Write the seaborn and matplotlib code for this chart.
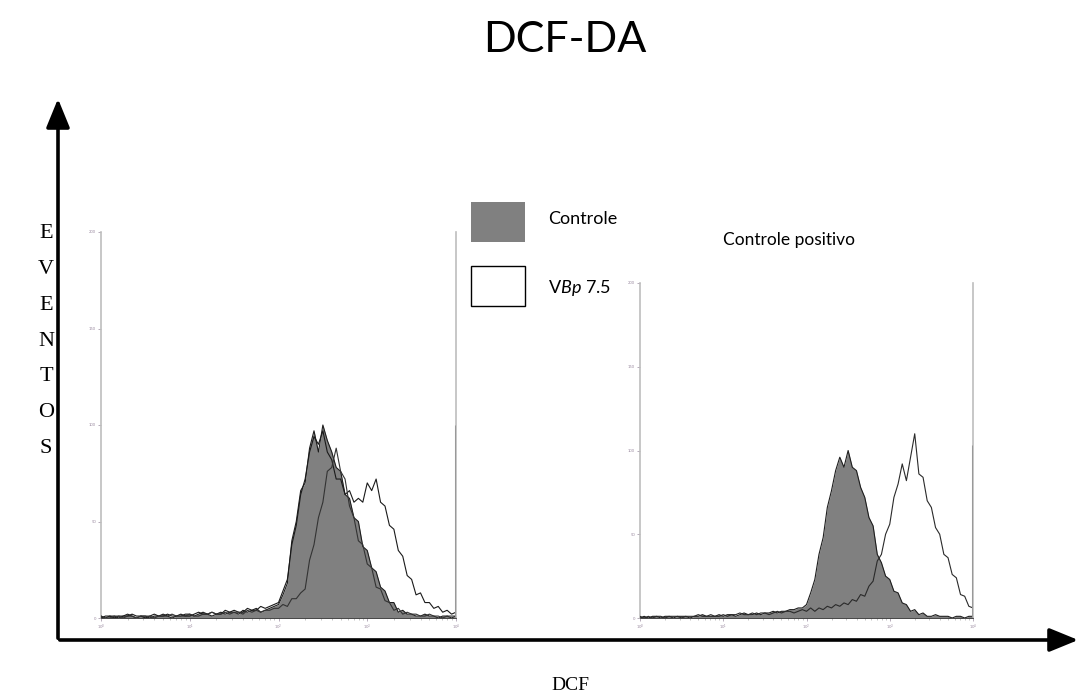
import numpy as np
import matplotlib
matplotlib.use("Agg")
import matplotlib.pyplot as plt
from matplotlib.patches import Rectangle, FancyArrowPatch
from matplotlib.ticker import LogLocator, NullFormatter, FixedLocator
import seaborn as sns

# ---------------- data ----------------
# bin centres in log10(channel) units, 0..4 decades
log_channel = np.round(np.arange(0, 4.0001, 0.05), 2)

left_controle = [1,0,1,1,0,1,2,1,0,1,
                 1,0,1,1,2,1,0,1,1,2,
                 2,1,2,3,2,1,2,3,2,3,
                 3,2,4,3,4,5,3,4,5,6,
                 7,12,18,40,50,66,70,88,97,86,
                 100,92,86,78,76,64,62,52,50,37,
                 35,26,24,16,14,8,8,3,4,2,
                 2,1,1,2,1,1,0,1,1,0,1]
left_vbp = [0,1,1,0,1,1,1,2,1,1,
            0,1,2,1,1,2,1,1,2,1,
            1,2,3,2,2,3,2,2,4,3,
            4,3,3,5,4,4,6,5,6,7,
            8,14,20,38,48,64,72,86,94,90,
            97,86,82,72,72,64,66,60,62,60,
            70,66,72,60,58,48,46,35,32,22,
            20,12,13,8,8,5,6,3,4,2,3]
left_vbp_b = [1,0,0,1,1,0,1,1,0,1,
              1,1,0,1,1,1,2,1,1,1,
              2,1,1,2,2,3,2,2,3,2,
              3,3,2,4,3,4,3,4,4,5,
              5,7,6,10,10,13,15,30,38,52,
              60,76,78,88,76,72,58,52,40,38,
              28,26,16,15,9,8,4,5,2,3,
              2,2,1,1,2,1,1,0,1,1,1]
right_controle = [0,1,0,1,1,0,1,1,0,1,
                  1,1,0,1,1,2,1,1,1,2,
                  1,2,2,1,2,3,2,2,3,2,
                  3,3,4,3,4,4,5,5,6,6,
                  8,15,23,38,48,66,76,88,96,90,
                  100,90,88,78,72,60,55,38,33,25,
                  23,16,15,9,8,4,5,2,3,1,
                  1,2,1,1,1,0,1,1,0,1,1]
right_positivo = [1,0,1,0,1,1,0,1,1,1,
                  0,1,1,1,2,1,1,2,1,1,
                  2,1,2,2,3,2,2,3,2,3,
                  3,2,3,4,3,4,4,3,4,5,
                  4,6,4,6,5,7,6,8,7,9,
                  8,11,10,14,13,19,22,34,38,50,
                  56,72,80,92,82,96,110,86,84,70,
                  66,54,50,38,36,26,24,14,13,7,6]
# counts piled up in the last channel
left_pileup = 100
right_pileup = 103

y_ticks = [0, 50, 100, 150, 200]
x_decades = [1, 10, 100, 1000, 10000]
x_tick_labels = ["10$^0$", "10$^1$", "10$^2$", "10$^3$", "10$^4$"]

title = "DCF-DA"
y_letters = ["E", "V", "E", "N", "T", "O", "S"]
x_word = "DCF"
legend_labels = ["Controle", "V$\\mathit{Bp}$ 7.5"]
panel_title = "Controle positivo"

# ---------------- style ----------------
sns.set_style("white")
plt.rcParams["font.family"] = ["Lato", "DejaVu Sans"]
plt.rcParams["text.color"] = "black"
plt.rcParams["mathtext.fontset"] = "custom"
plt.rcParams["mathtext.rm"] = "Lato"
plt.rcParams["mathtext.it"] = "Lato:italic"

W, H = 1081, 697
fig = plt.figure(figsize=(W / 100, H / 100), dpi=100)

# overlay axes in pixel coordinates for the annotation frame
ov = fig.add_axes([0, 0, 1, 1])
ov.set_xlim(0, W)
ov.set_ylim(H, 0)
ov.axis("off")

channel = 10 ** log_channel
FILL = "#808080"


def hist_panel(rect, filled, outlines, pileup):
    ax = fig.add_axes(rect)
    ax.fill_between(channel, 0, filled, color=FILL, lw=0, zorder=2)
    sns.lineplot(x=channel, y=filled, ax=ax, color="#1e1e1e", lw=0.8, zorder=3)
    for ser, col in outlines:
        sns.lineplot(x=channel, y=ser, ax=ax, color=col, lw=0.8, zorder=4)
    ax.vlines(x_decades[-1], 0, pileup, color="#999999", lw=2.2, zorder=5)
    ax.set_xscale("log")
    ax.set_xlim(x_decades[0], x_decades[-1])
    ax.set_ylim(y_ticks[0], y_ticks[-1])
    ax.xaxis.set_major_locator(FixedLocator(x_decades))
    ax.set_xticklabels(x_tick_labels)
    ax.xaxis.set_minor_locator(LogLocator(base=10, subs=np.arange(2, 10)))
    ax.xaxis.set_minor_formatter(NullFormatter())
    ax.set_yticks(y_ticks)
    ax.set_yticklabels([str(v) for v in y_ticks])
    ax.tick_params(axis="both", which="major", length=2.5, width=0.5,
                   colors="#9a8aa0", labelsize=3, pad=1, direction="out")
    ax.tick_params(axis="x", which="minor", length=1.5, width=0.4,
                   colors="#999999", bottom=True)
    ax.tick_params(axis="both", which="both", bottom=True, left=True)
    ax.spines["top"].set_visible(False)
    ax.spines["left"].set_color("#bdbdbd")
    ax.spines["left"].set_linewidth(1.2)
    ax.spines["right"].set_color("#bdbdbd")
    ax.spines["right"].set_linewidth(1.2)
    ax.spines["bottom"].set_color("#333333")
    ax.spines["bottom"].set_linewidth(0.6)
    ax.set_xlabel("")
    ax.set_ylabel("")
    ax.patch.set_alpha(0)
    return ax


ax1 = hist_panel([101 / W, 1 - 618 / H, 355 / W, 386 / H],
                 left_controle,
                 [(left_vbp, "#1a1a1a"), (left_vbp_b, "#333333")],
                 left_pileup)
ax2 = hist_panel([640 / W, 1 - 618 / H, 333 / W, 335 / H],
                 right_controle,
                 [(right_positivo, "#2a2a2a")],
                 right_pileup)

# big frame arrows
ov.add_patch(FancyArrowPatch((58, 641), (58, 96), arrowstyle="-|>,head_length=1.1,head_width=0.45",
                             mutation_scale=16, lw=2.6, color="black"))
ov.add_patch(FancyArrowPatch((57, 640), (1081, 640), arrowstyle="-|>,head_length=1.1,head_width=0.45",
                             mutation_scale=16, lw=2.6, color="black"))

# texts
ov.text(565, 40, title, ha="center", va="center", fontsize=31, color="black")
for i, letter in enumerate(y_letters):
    ov.text(46, 234 + i * 35.7, letter, ha="center", va="center", fontsize=16,
            family=["Liberation Serif", "DejaVu Serif"], color="black")
ov.text(570, 686, x_word, ha="center", va="center", fontsize=14,
        family=["Liberation Serif", "DejaVu Serif"], color="black")

# legend
ov.add_patch(Rectangle((471, 202), 54, 40, fc=FILL, ec="none"))
ov.add_patch(Rectangle((471, 266), 54, 40, fc="white", ec="black", lw=1.0))
ov.text(548, 219, legend_labels[0], ha="left", va="center", fontsize=13, color="black")
ov.text(548, 288, legend_labels[1], ha="left", va="center", fontsize=13, color="black")
ov.text(723, 240, panel_title, ha="left", va="center", fontsize=12.5, color="black")

fig.savefig("out.png", dpi=100)
